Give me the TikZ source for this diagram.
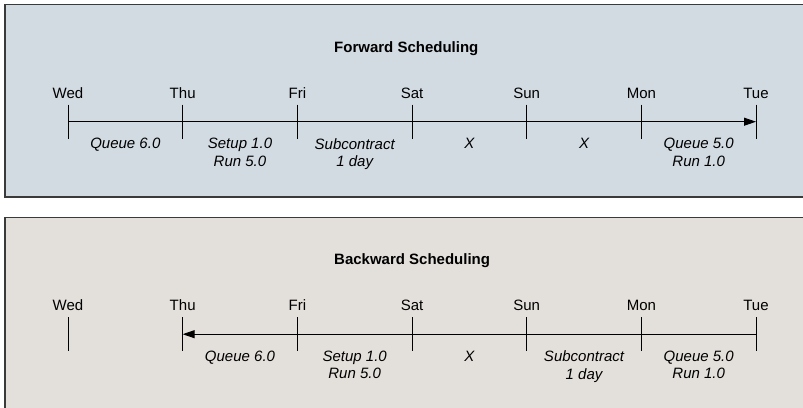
\documentclass[tikz,border=0pt]{standalone}
\usepackage{fontspec}
\setmainfont{Liberation Sans}
\usetikzlibrary{positioning}
\usetikzlibrary{calc}
\usetikzlibrary{arrows.meta}
\definecolor{fwfill}{RGB}{210,218,226}
\definecolor{bwfill}{RGB}{227,223,218}
\definecolor{framegray}{RGB}{58,58,58}

\begin{document}
\begin{tikzpicture}[x=1pt, y=1pt,
        node distance = 114.67pt,
        day/.style = {inner sep=0pt, text depth=0pt, font=\fontsize{15}{17.4}\selectfont},
        task/.style = {inner sep=0pt, anchor=north, align=center, font=\fontsize{15}{17.4}\selectfont\itshape},
        title/.style = {inner sep=0pt, anchor=base west, font=\fontsize{15}{17.4}\selectfont\bfseries},
        panel/.style = {draw=framegray, line width=1.2pt},
        axis/.style = {line width=0.9pt},
        tip/.style = {-{Triangle[length=12pt, width=8pt]}}
        ]
        \useasboundingbox (0,0) rectangle (803,-407);
        \clip (0,0) rectangle (803,-407);

        % forward
        \draw[panel, fill=fwfill] (5,-4.7) rectangle (815,-197);
        \node[title] (ftitle) at (334,-52) {Forward Scheduling};
        \coordinate (f1) at (68,-121.7);
        \coordinate[right of=f1] (f2);
        \coordinate[right of=f2] (f3);
        \coordinate[right of=f3] (f4);
        \coordinate[right of=f4] (f5);
        \coordinate[right of=f5] (f6);
        \coordinate[right of=f6] (f7);
        \node[day, above=23.4pt of f1] (fd1) {Wed};
        \node[day, above=23.4pt of f2] (fd2) {Thu};
        \node[day, above=23.4pt of f3] (fd3) {Fri};
        \node[day, above=23.4pt of f4] (fd4) {Sat};
        \node[day, above=23.4pt of f5] (fd5) {Sun};
        \node[day, above=23.4pt of f6] (fd6) {Mon};
        \node[day, above=23.4pt of f7] (fd7) {Tue};
        \draw[axis] ([yshift=17pt]f1) -- ([yshift=-17pt]f1);
        \draw[axis] ([yshift=17pt]f2) -- ([yshift=-17pt]f2);
        \draw[axis] ([yshift=17pt]f3) -- ([yshift=-17pt]f3);
        \draw[axis] ([yshift=17pt]f4) -- ([yshift=-17pt]f4);
        \draw[axis] ([yshift=17pt]f5) -- ([yshift=-17pt]f5);
        \draw[axis] ([yshift=17pt]f6) -- ([yshift=-17pt]f6);
        \draw[axis] ([yshift=17pt]f7) -- ([yshift=-17pt]f7);
        \draw[axis, tip] (f1) -- (f7);
        \node[task] (ft1) at ([yshift=-16.6pt]$(f1)!.5!(f2)$) {Queue 6.0};
        \node[task] (ft2) at ([yshift=-16.6pt]$(f2)!.5!(f3)$) {Setup 1.0\\Run 5.0};
        \node[task] (ft3) at ([yshift=-16.6pt]$(f3)!.5!(f4)$) {Subcontract\\1 day};
        \node[task] (ft4) at ([yshift=-16.6pt]$(f4)!.5!(f5)$) {X};
        \node[task] (ft5) at ([yshift=-16.6pt]$(f5)!.5!(f6)$) {X};
        \node[task] (ft6) at ([yshift=-16.6pt]$(f6)!.5!(f7)$) {Queue 5.0\\Run 1.0};

        % backward
        \draw[panel, fill=bwfill] (5,-217.2) rectangle (815,-420);
        \node[title] (btitle) at (334,-264.5) {Backward Scheduling};
        \coordinate (b1) at (68,-334.2);
        \coordinate[right of=b1] (b2);
        \coordinate[right of=b2] (b3);
        \coordinate[right of=b3] (b4);
        \coordinate[right of=b4] (b5);
        \coordinate[right of=b5] (b6);
        \coordinate[right of=b6] (b7);
        \node[day, above=23.4pt of b1] (bd1) {Wed};
        \node[day, above=23.4pt of b2] (bd2) {Thu};
        \node[day, above=23.4pt of b3] (bd3) {Fri};
        \node[day, above=23.4pt of b4] (bd4) {Sat};
        \node[day, above=23.4pt of b5] (bd5) {Sun};
        \node[day, above=23.4pt of b6] (bd6) {Mon};
        \node[day, above=23.4pt of b7] (bd7) {Tue};
        \draw[axis] ([yshift=17pt]b1) -- ([yshift=-17pt]b1);
        \draw[axis] ([yshift=17pt]b2) -- ([yshift=-17pt]b2);
        \draw[axis] ([yshift=17pt]b3) -- ([yshift=-17pt]b3);
        \draw[axis] ([yshift=17pt]b4) -- ([yshift=-17pt]b4);
        \draw[axis] ([yshift=17pt]b5) -- ([yshift=-17pt]b5);
        \draw[axis] ([yshift=17pt]b6) -- ([yshift=-17pt]b6);
        \draw[axis] ([yshift=17pt]b7) -- ([yshift=-17pt]b7);
        \draw[axis, tip] (b7) -- (b2);
        \node[task] (bt1) at ([yshift=-16.6pt]$(b2)!.5!(b3)$) {Queue 6.0};
        \node[task] (bt2) at ([yshift=-16.6pt]$(b3)!.5!(b4)$) {Setup 1.0\\Run 5.0};
        \node[task] (bt3) at ([yshift=-16.6pt]$(b4)!.5!(b5)$) {X};
        \node[task] (bt4) at ([yshift=-16.6pt]$(b5)!.5!(b6)$) {Subcontract\\1 day};
        \node[task] (bt5) at ([yshift=-16.6pt]$(b6)!.5!(b7)$) {Queue 5.0\\Run 1.0};
\end{tikzpicture}
\end{document}
